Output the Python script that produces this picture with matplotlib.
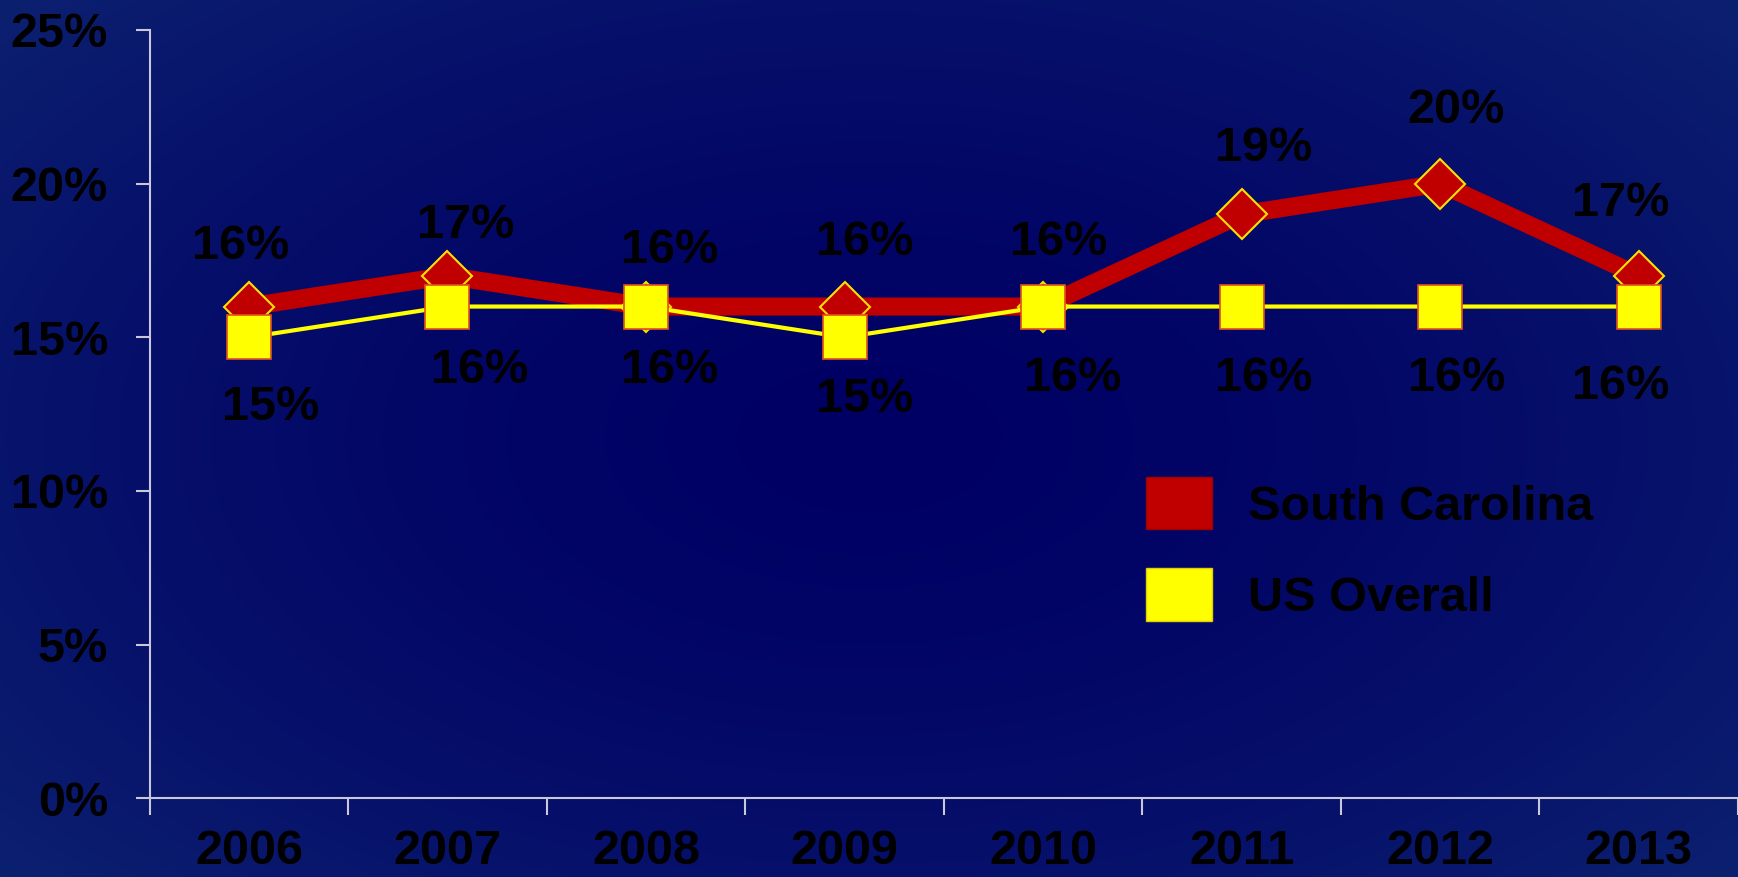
import matplotlib
matplotlib.use("Agg")
import matplotlib.pyplot as plt
from matplotlib.patches import Patch
import numpy as np

years = ["2006", "2007", "2008", "2009", "2010", "2011", "2012", "2013"]
south_carolina = [16, 17, 16, 16, 16, 19, 20, 17]
us_overall = [15, 16, 16, 15, 16, 16, 16, 16]
yticks = [0, 5, 10, 15, 20, 25]

# label offsets in pixels (dx, dy) from each point
sc_offsets = [(-8, 60), (18, 50), (24, 56), (20, 64), (16, 64), (22, 66), (16, 73), (-18, 72)]
us_offsets = [(22, -70), (32, -64), (24, -64), (20, -62), (30, -72), (22, -72), (16, -72), (-18, -80)]

plt.rcParams['font.family'] = ['Liberation Sans', 'DejaVu Sans']
font = {'size': 35, 'weight': 'bold', 'color': 'black'}

fig = plt.figure(figsize=(17.38, 8.77), dpi=100)

# radial navy background
bg = fig.add_axes([0, 0, 1, 1])
yy, xx = np.mgrid[-1:1:400j, -1:1:800j]
r = np.clip(np.sqrt((xx * 0.9) ** 2 + (yy * 0.8) ** 2), 0, 1.2) / 1.2
inner = np.array([0, 0, 100]) / 255
outer = np.array([12, 32, 112]) / 255
img = inner + (outer - inner) * (r[..., None] ** 1.6)
bg.imshow(img, aspect='auto', extent=[0, 1, 0, 1])
bg.axis('off')

ax = fig.add_axes([135 / 1568, 1 - 720 / 791, 1 - 135 / 1568, (720 - 27) / 791])
ax.patch.set_alpha(0)

x = np.arange(len(years))
ax.plot(x, us_overall, color='#FFFF00', lw=3, marker='s', ms=31,
        mfc='#FFFF00', mec='#E05020', mew=1.2, zorder=4)
ax.plot(x, south_carolina, color='#C00000', lw=13, marker='D', ms=25,
        mfc='#C00000', mec='#FFE000', mew=1.5, zorder=3, solid_joinstyle='miter')

for i in range(len(years)):
    ax.annotate(f"{south_carolina[i]}%", (x[i], south_carolina[i]),
                xytext=sc_offsets[i], textcoords='offset pixels',
                ha='center', va='center', zorder=5, **font)
    ax.annotate(f"{us_overall[i]}%", (x[i], us_overall[i]),
                xytext=us_offsets[i], textcoords='offset pixels',
                ha='center', va='center', zorder=5, **font)

ax.set_xlim(-0.5, len(years) - 0.5)
ax.set_ylim(0, 25)
ax.set_yticks(yticks)
ax.set_yticklabels([f"{v}%" for v in yticks], fontdict=font)
ax.set_xticks(np.arange(len(years) + 1) - 0.5)
ax.set_xticklabels([])
ax.set_xticks(x, minor=True)
ax.set_xticklabels(years, minor=True, fontdict=font)

for s in ['top', 'right']:
    ax.spines[s].set_visible(False)
for s in ['left', 'bottom']:
    ax.spines[s].set_color('#C8C8D8')
    ax.spines[s].set_linewidth(1.5)
ax.tick_params(axis='y', direction='out', length=10, width=1.5, color='#C8C8D8', pad=20)
ax.tick_params(axis='x', which='major', direction='out', length=12, width=1.5, color='#C8C8D8')
ax.tick_params(axis='x', which='minor', length=0, pad=22)

handles = [Patch(facecolor='#C00000', edgecolor='#A00000', label='South Carolina'),
           Patch(facecolor='#FFFF00', edgecolor='#E0D000', label='US Overall')]
leg = ax.legend(handles=handles, loc='upper left', bbox_to_anchor=(0.627, 0.418),
                frameon=False, prop={'size': 35, 'weight': 'bold'},
                borderpad=0, borderaxespad=0,
                handlelength=1.37, handleheight=1.28, handletextpad=0.73,
                labelspacing=0.8)
for t in leg.get_texts():
    t.set_color('black')

fig.savefig("out.png", dpi=100)
